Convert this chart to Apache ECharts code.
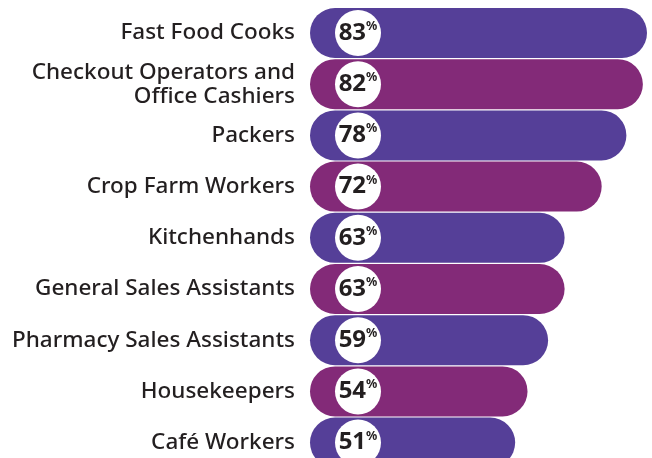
<!DOCTYPE html>
<html>
<head>
<meta charset="utf-8">
<script src="https://cdn.jsdelivr.net/npm/echarts@6/dist/echarts.min.js"></script>
<style>
  html, body { margin: 0; padding: 0; background: #ffffff; }
  #chart { width: 652px; height: 458px; }
</style>
</head>
<body>
<div id="chart"></div>
<script>
// Occupations, top to bottom
const occupations = [
  'Fast Food Cooks',
  'Checkout Operators and\nOffice Cashiers',
  'Packers',
  'Crop Farm Workers',
  'Kitchenhands',
  'General Sales Assistants',
  'Pharmacy Sales Assistants',
  'Housekeepers',
  'Café Workers'
];

// Share of workers (%)
const shares = [83, 82, 78, 72, 63, 63, 59, 54, 51];

// Alternating bar fills
const barColors = ['#553f98', '#832a78'];

const FONT = '"Noto Sans", sans-serif';

const chart = echarts.init(document.getElementById('chart'), null, { renderer: 'canvas' });

chart.setOption({
  animation: false,
  backgroundColor: '#ffffff',
  grid: {
    left: 310, width: 337, top: 7.4, height: 460.8,
    containLabel: false,
    outerBoundsMode: 'none'
  },
  xAxis: {
    type: 'value',
    min: 1.2,
    max: 83,
    show: false
  },
  yAxis: {
    type: 'category',
    inverse: true,
    data: occupations,
    axisLine: { show: false },
    axisTick: { show: false },
    splitLine: { show: false },
    axisLabel: {
      margin: 15,
      color: '#231f20',
      fontFamily: FONT,
      fontWeight: 500,
      fontSize: 22.5,
      lineHeight: 24,
      align: 'right'
    }
  },
  series: [{
    type: 'bar',
    data: shares.map((v, i) => ({
      value: v,
      itemStyle: { color: barColors[i % 2] }
    })),
    barWidth: 50,
    itemStyle: { borderRadius: 25 },
    label: {
      show: true,
      position: 'insideLeft',
      distance: 48,
      width: 46,
      height: 46,
      borderRadius: 23,
      backgroundColor: '#ffffff',
      align: 'center',
      verticalAlign: 'middle',
      formatter: p => '{v|' + p.value + '}{p|%}',
      rich: {
        v: {
          fontFamily: FONT,
          fontWeight: 'bold',
          fontSize: 24,
          color: '#231f20',
          lineHeight: 46,
          verticalAlign: 'middle'
        },
        p: {
          fontFamily: FONT,
          fontWeight: 'bold',
          fontSize: 12.5,
          color: '#231f20',
          lineHeight: 46,
          verticalAlign: 'middle',
          padding: [0, 0, 13, 0]
        }
      }
    }
  }]
});
</script>
</body>
</html>
